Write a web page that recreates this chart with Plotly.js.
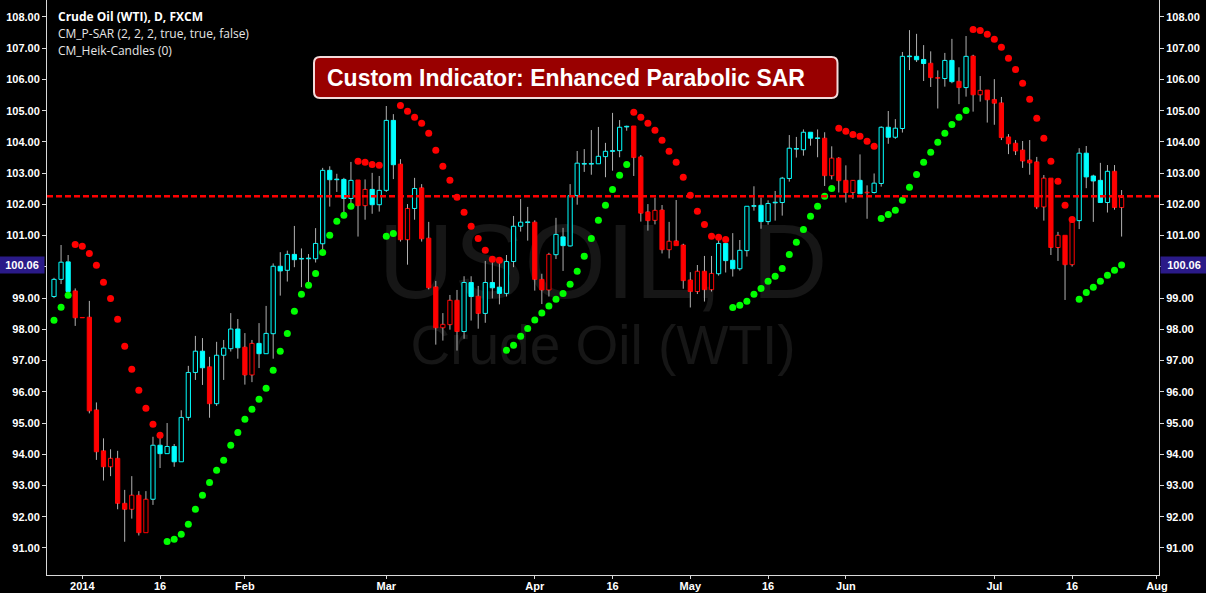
<!DOCTYPE html>
<html><head><meta charset="utf-8">
<script src="https://cdn.plot.ly/plotly-3.0.1.min.js"></script>
<style>html,body{margin:0;padding:0;background:#000;overflow:hidden}#chart{width:1206px;height:593px}</style>
</head><body><div id="chart"></div>
<script>
// bar index 0 = first session of 2014 (Jan 1); first bar is 4 sessions earlier
const firstBar = -4;
const openP = [
 99.05, 99.60, 99.21, 99.23, 98.38, 98.39, 95.42, 94.11, 93.87, 93.87,
 92.43, 92.69, 92.69, 92.56, 92.56, 94.02, 94.02, 93.76, 93.76, 95.18,
 96.62, 96.77, 96.80, 95.62, 97.17, 97.38, 97.41, 97.43, 97.55, 97.22,
 97.22, 97.86, 99.87, 99.89, 100.23, 100.25, 100.26, 100.26, 100.74, 102.79,
 102.79, 102.19, 102.19, 102.78, 102.48, 101.99, 101.99, 102.45, 103.27, 103.29,
 101.87, 101.87, 102.53, 100.92, 99.36, 98.16, 98.93, 98.93, 97.93, 99.05,
 99.06, 98.51, 99.33, 99.15, 99.15, 100.17, 101.30, 101.42, 101.43, 99.60,
 100.40, 100.39, 100.68, 100.67, 102.28, 103.29, 103.29, 103.30, 103.53, 103.70,
 103.72, 104.48, 104.51, 103.52, 101.76, 101.81, 101.82, 100.82, 100.83, 100.70,
 99.58, 99.86, 99.86, 99.79, 99.78, 100.20, 99.94, 99.94, 100.52, 101.94,
 101.45, 101.45, 102.05, 102.06, 102.83, 103.77, 103.75, 104.12, 104.11, 104.12,
 103.48, 103.48, 102.77, 102.77, 102.34, 102.39, 102.38, 102.67, 104.15, 104.15,
 104.43, 106.73, 106.63, 106.51, 106.52, 106.06, 106.03, 105.93, 105.94, 105.74,
 106.75, 105.65, 105.66, 105.36, 105.25, 104.16, 103.96, 103.74, 103.42, 103.36,
 102.84, 102.84, 101.01, 101.01, 101.43, 101.48, 102.88, 102.75, 102.06, 102.06, 103.06, 102.22];
const highP = [
 99.65, 100.70, 100.38, 99.31, 98.38, 98.91, 95.66, 94.51, 94.16, 94.11,
 92.86, 93.30, 92.82, 92.82, 94.56, 94.56, 95.00, 94.33, 95.41, 96.83,
 97.79, 97.72, 97.12, 97.60, 97.66, 98.52, 98.33, 97.88, 97.66, 98.20,
 98.75, 100.11, 100.47, 100.52, 101.31, 100.59, 100.41, 101.24, 103.17, 103.22,
 102.98, 102.85, 103.36, 102.78, 102.80, 103.01, 102.91, 105.15, 104.89, 103.45,
 102.01, 102.85, 102.65, 101.44, 99.55, 98.52, 99.10, 99.26, 99.70, 99.70,
 99.39, 100.19, 100.19, 100.19, 100.38, 101.63, 102.17, 101.92, 101.49, 99.78,
 100.45, 101.57, 101.25, 102.65, 103.71, 103.77, 104.38, 104.48, 103.97, 104.93,
 104.70, 104.52, 104.51, 103.58, 102.01, 102.22, 101.98, 101.44, 102.14, 100.74,
 99.83, 100.06, 100.35, 100.35, 100.91, 100.87, 101.08, 100.86, 101.94, 102.58,
 102.22, 102.13, 102.43, 102.88, 104.22, 104.16, 104.40, 104.31, 104.40, 104.31,
 103.86, 103.51, 103.25, 102.78, 103.60, 102.61, 102.99, 104.50, 104.99, 104.73,
 106.88, 107.58, 107.46, 107.10, 106.90, 106.29, 106.85, 107.30, 106.39, 107.39,
 106.79, 106.11, 105.66, 106.01, 105.44, 104.25, 104.06, 104.03, 104.06, 103.52,
 102.94, 102.84, 101.12, 101.01, 101.45, 103.80, 103.87, 102.95, 103.33, 103.26, 103.26, 102.46];
const lowP = [
 99.00, 99.45, 99.10, 98.11, 98.37, 95.31, 93.82, 93.16, 93.30, 92.24,
 91.20, 91.94, 91.40, 91.49, 92.38, 93.56, 94.02, 93.60, 93.76, 95.08,
 96.38, 96.22, 95.17, 95.55, 96.38, 97.29, 97.06, 96.23, 96.31, 96.76,
 97.22, 97.06, 99.08, 99.53, 99.99, 99.35, 99.42, 100.14, 100.50, 101.93,
 102.40, 101.61, 101.93, 100.97, 101.51, 101.70, 101.77, 102.40, 102.81, 100.81,
 100.07, 101.51, 100.81, 99.28, 97.51, 97.64, 97.99, 97.32, 97.70, 98.28,
 98.02, 98.21, 98.99, 98.80, 99.05, 99.99, 101.13, 100.84, 99.24, 98.81,
 99.05, 100.25, 99.87, 100.65, 101.99, 103.04, 102.95, 103.30, 102.87, 103.08,
 103.51, 104.36, 102.91, 101.45, 101.16, 101.36, 100.43, 100.27, 100.68, 99.30,
 98.70, 99.13, 98.89, 99.21, 99.72, 99.82, 99.69, 99.88, 100.33, 101.80,
 101.22, 101.35, 101.48, 101.64, 102.73, 103.50, 103.56, 103.88, 103.51, 102.59,
 102.80, 102.38, 102.06, 102.18, 102.34, 101.54, 102.35, 102.57, 103.94, 104.10,
 104.30, 106.30, 106.56, 105.95, 105.76, 105.07, 105.77, 105.88, 105.21, 105.45,
 104.97, 105.29, 104.62, 104.55, 104.06, 103.61, 103.58, 103.17, 102.95, 101.85,
 101.48, 100.38, 100.19, 98.94, 100.01, 101.21, 102.52, 101.44, 102.06, 101.74, 101.83, 100.97];
const closeP = [
 99.60, 100.15, 100.16, 98.37, 98.37, 95.39, 94.08, 93.60, 93.60, 92.43,
 92.24, 92.24, 91.49, 91.49, 94.29, 94.29, 94.25, 94.25, 95.18, 96.62,
 97.30, 97.30, 95.62, 97.17, 97.40, 98.01, 98.01, 96.54, 96.54, 97.55,
 97.87, 100.02, 100.02, 100.40, 100.40, 100.27, 100.28, 100.75, 103.09, 103.09,
 102.81, 102.80, 102.77, 101.96, 101.96, 102.48, 102.45, 104.69, 104.69, 100.87,
 100.87, 102.51, 100.90, 99.33, 98.05, 98.05, 98.15, 97.93, 99.50, 99.50,
 98.51, 99.50, 99.50, 99.35, 100.17, 101.30, 101.43, 101.44, 99.60, 99.26,
 99.26, 101.04, 100.96, 102.28, 103.32, 103.31, 103.31, 103.54, 103.70, 103.72,
 104.47, 104.50, 103.50, 101.72, 101.48, 101.49, 100.55, 100.55, 100.68, 99.56,
 99.21, 99.21, 99.27, 99.27, 100.75, 100.75, 100.21, 100.53, 101.94, 101.96,
 101.97, 102.03, 102.07, 102.84, 103.80, 103.79, 104.31, 104.31, 104.13, 102.92,
 102.92, 102.76, 102.38, 102.38, 102.77, 102.37, 102.68, 104.47, 104.47, 104.44,
 106.74, 106.75, 106.74, 106.64, 106.06, 106.04, 106.61, 106.61, 105.74, 106.74,
 105.51, 105.51, 105.35, 105.24, 104.14, 103.94, 103.71, 103.39, 103.33, 101.92,
 101.92, 100.62, 100.62, 100.07, 100.07, 103.64, 103.64, 102.91, 102.77, 103.06, 101.90, 101.90];
// 1 = hollow body, 0 = filled body
const hollowBody = [
 1,1,0,0,0,0,0,0,1,0,
 0,1,0,1,1,0,1,0,1,1,
 1,0,0,1,1,1,0,0,1,0,
 1,1,0,1,0,0,0,1,1,0,
 0,0,1,0,1,0,1,1,0,0,
 1,1,0,0,0,1,1,0,1,0,
 0,1,0,0,1,1,1,0,0,0,
 1,1,0,1,1,0,0,1,1,0,
 1,0,0,0,0,1,0,1,0,0,
 0,1,0,1,1,0,0,1,1,0,
 0,1,0,1,1,0,1,0,0,0,
 1,0,0,1,0,0,1,1,0,1,
 1,0,0,0,0,0,1,0,0,1,
 0,1,0,0,0,0,0,0,0,0,
 1,0,1,0,1,1,0,0,0,1,0,1];
const sarP = [
 98.29, 98.71, 99.09, 100.72, 100.66, 100.43, 100.05, 99.51, 98.99, 98.32,
 97.46, 96.72, 96.05, 95.47, 94.96, 94.61, 91.21, 91.28, 91.44, 91.76,
 92.24, 92.69, 93.10, 93.49, 93.81, 94.29, 94.70, 95.12, 95.44, 95.76,
 96.11, 96.69, 97.30, 97.87, 98.58, 99.12, 99.41, 99.79, 100.46, 101.01,
 101.46, 101.65, 101.94, 103.38, 103.35, 103.28, 103.25, 100.98, 101.07, 105.17,
 104.98, 104.79, 104.60, 104.28, 103.73, 103.22, 102.77, 102.23, 101.75, 101.30,
 100.91, 100.53, 100.24, 100.21, 97.33, 97.49, 97.78, 98.03, 98.30, 98.52,
 98.75, 98.96, 99.15, 99.44, 99.86, 100.34, 100.91, 101.49, 101.97, 102.48,
 102.93, 103.28, 104.95, 104.79, 104.60, 104.37, 104.05, 103.70, 103.35, 102.87,
 102.29, 101.78, 101.36, 100.98, 100.95, 100.88, 98.70, 98.77, 98.90, 99.12,
 99.31, 99.54, 99.70, 99.95, 100.40, 100.79, 101.20, 101.62, 101.94, 102.26,
 102.51, 104.44, 104.34, 104.24, 104.18, 104.02, 103.86, 101.55, 101.68, 101.81,
 102.13, 102.55, 102.96, 103.35, 103.67, 103.99, 104.28, 104.56, 104.79, 105.01,
 107.60, 107.57, 107.45, 107.29, 107.03, 106.68, 106.32, 105.88, 105.37, 104.76,
 104.12, 103.38, 102.74, 101.97, 101.52, 98.96, 99.18, 99.35, 99.54, 99.73, 99.89, 100.06];
const tickBars = [0, 11, 23, 43, 64, 75, 86, 97, 108, 129, 140, 152];
const tickLabels = ['2014', '16', 'Feb', 'Mar', 'Apr', '16', 'May', '16', 'Jun', 'Jul', '16', 'Aug'];
const lineLevel = 102.26;
const legendLines = ['<b>Crude Oil (WTI), D, FXCM</b>', 'CM_P-SAR (2, 2, 2, true, true, false)', 'CM_Heik-Candles (0)'];
const headline = 'Custom Indicator: Enhanced Parabolic SAR';
const watermark1 = 'USOIL, D';
const watermark2 = 'Crude Oil (WTI)';

const UP = '#00ffff', DN = '#ff0000', GREEN = '#00ff00';
const xs = openP.map((_, k) => k + firstBar);
const base = [], hgt = [], fill = [], edge = [];
const wx = [], wy = [];
openP.forEach((o, k) => {
  const c = closeP[k];
  const top = Math.max(o, c), bot = Math.min(o, c);
  const col = c >= o ? UP : DN;
  base.push(bot); hgt.push(top - bot);
  edge.push(col); fill.push(hollowBody[k] ? '#000000' : col);
  if (highP[k] > top) { wx.push(xs[k], xs[k], null); wy.push(top, highP[k], null); }
  if (lowP[k] < bot) { wx.push(xs[k], xs[k], null); wy.push(lowP[k], bot, null); }
});
const sarColors = sarP.map((s, k) => s > closeP[k] ? DN : GREEN);

const traces = [
  {type: 'scatter', mode: 'lines', x: wx, y: wy, line: {color: '#b0b0b0', width: 1}, hoverinfo: 'skip', connectgaps: false},
  {type: 'bar', x: xs, y: hgt, base: base, width: 0.6,
   marker: {color: fill, line: {color: edge, width: 1}}, hoverinfo: 'skip'},
  {type: 'scatter', mode: 'markers', x: xs, y: sarP, yaxis: 'y2',
   marker: {color: sarColors, size: 7, line: {width: 0}}, hoverinfo: 'skip'}
];

const W = 1206, H = 593, ML = 47, MR = 47, MT = 0, MB = 18;
const PW = W - ML - MR, PH = H - MT - MB;
const px = v => (v - ML) / PW;        // pixel -> paper x
const py = v => 1 - (v - MT) / PH;    // pixel -> paper y

const tickFont = {family: 'Liberation Sans, Arial, sans-serif', size: 11, color: '#ffffff', weight: 'bold'};
const yRange = [90.135, 108.544];
const yCommon = {range: yRange, tick0: 91, dtick: 1, tickformat: '.2f', showgrid: false, zeroline: false,
  showline: true, linecolor: '#d8d8d8', linewidth: 1, ticks: 'outside', ticklen: 4, tickcolor: '#d8d8d8',
  tickfont: tickFont, fixedrange: true};

// rounded headline box
const bx0 = px(314), bx1 = px(837.5), byT = py(57), byB = py(98);
const rx = 6 / PW, ry = 6 / PH;
const boxPath = `M ${bx0+rx},${byT} L ${bx1-rx},${byT} Q ${bx1},${byT} ${bx1},${byT-ry} L ${bx1},${byB+ry} Q ${bx1},${byB} ${bx1-rx},${byB} L ${bx0+rx},${byB} Q ${bx0},${byB} ${bx0},${byB+ry} L ${bx0},${byT-ry} Q ${bx0},${byT} ${bx0+rx},${byT} Z`;

const lastSar = sarP[sarP.length - 1];
const lastTxt = lastSar.toFixed(2);

const layout = {
  width: W, height: H, margin: {l: ML, r: MR, t: MT, b: MB, pad: 0},
  paper_bgcolor: '#000000', plot_bgcolor: '#000000', showlegend: false,
  bargap: 0,
  xaxis: {range: [-4.99, 152.29], tickmode: 'array', tickvals: tickBars, ticktext: tickLabels,
    showgrid: false, zeroline: false, showline: true, linecolor: '#d8d8d8', linewidth: 1,
    ticks: 'outside', ticklen: 3, tickcolor: '#d8d8d8', tickfont: tickFont, ticklabelstandoff: -2, fixedrange: true},
  yaxis: Object.assign({side: 'left'}, yCommon),
  yaxis2: Object.assign({side: 'right', overlaying: 'y'}, yCommon),
  shapes: [
    {type: 'rect', xref: 'paper', yref: 'paper', x0: 0.2, x1: 0.8, y0: py(251.5) - 0.1, y1: py(251.5) + 0.1,
     line: {width: 0}, fillcolor: 'rgba(0,0,0,0)', layer: 'below',
     label: {text: watermark1, textposition: 'middle center',
       font: {family: 'Liberation Sans, Arial, sans-serif', size: 105, color: '#161616'}}},
    {type: 'rect', xref: 'paper', yref: 'paper', x0: 0.2, x1: 0.8, y0: py(340) - 0.05, y1: py(340) + 0.05,
     line: {width: 0}, fillcolor: 'rgba(0,0,0,0)', layer: 'below',
     label: {text: watermark2, textposition: 'middle center',
       font: {family: 'Liberation Sans, Arial, sans-serif', size: 55, color: '#161616'}}},
    {type: 'line', xref: 'paper', yref: 'y', x0: 0, x1: 1, y0: lineLevel, y1: lineLevel,
     line: {color: '#ff0000', width: 2.5, dash: '6px,3px'}, layer: 'above'},
    {type: 'path', xref: 'paper', yref: 'paper', path: boxPath, fillcolor: '#990000',
     line: {color: '#f3dada', width: 2}, layer: 'above'}
  ],
  annotations: [
    {xref: 'paper', yref: 'paper', x: px(325), y: py(77.5), xanchor: 'left', yanchor: 'middle', showarrow: false,
     text: '<b>' + headline + '</b>', font: {family: 'Liberation Sans, Arial, sans-serif', size: 23, color: '#ffffff'}},
    ...legendLines.map((t, k) => ({xref: 'paper', yref: 'paper', x: px(56), y: py([16.7, 33.3, 50.7][k]),
      xanchor: 'left', yanchor: 'middle', showarrow: false, text: t,
      font: {family: 'Open Sans, sans-serif', size: 12, color: k === 0 ? '#ffffff' : '#e6e6e6'}})),
    {xref: 'paper', yref: 'y', x: 0, y: lastSar, xanchor: 'right', yanchor: 'middle', xshift: -2, showarrow: false,
     text: lastTxt, bgcolor: '#2a1a88', width: 42, height: 14, borderpad: 1,
     font: {family: 'Liberation Sans, Arial, sans-serif', size: 11, color: '#ffffff', weight: 'bold'}},
    {xref: 'paper', yref: 'y', x: 1, y: lastSar, xanchor: 'left', yanchor: 'middle', xshift: 1, showarrow: false,
     text: lastTxt, bgcolor: '#2a1a88', width: 44, height: 14, borderpad: 1,
     font: {family: 'Liberation Sans, Arial, sans-serif', size: 11, color: '#ffffff', weight: 'bold'}}
  ]
};

Plotly.newPlot('chart', traces, layout, {staticPlot: true, displayModeBar: false});
</script>
</body></html>
